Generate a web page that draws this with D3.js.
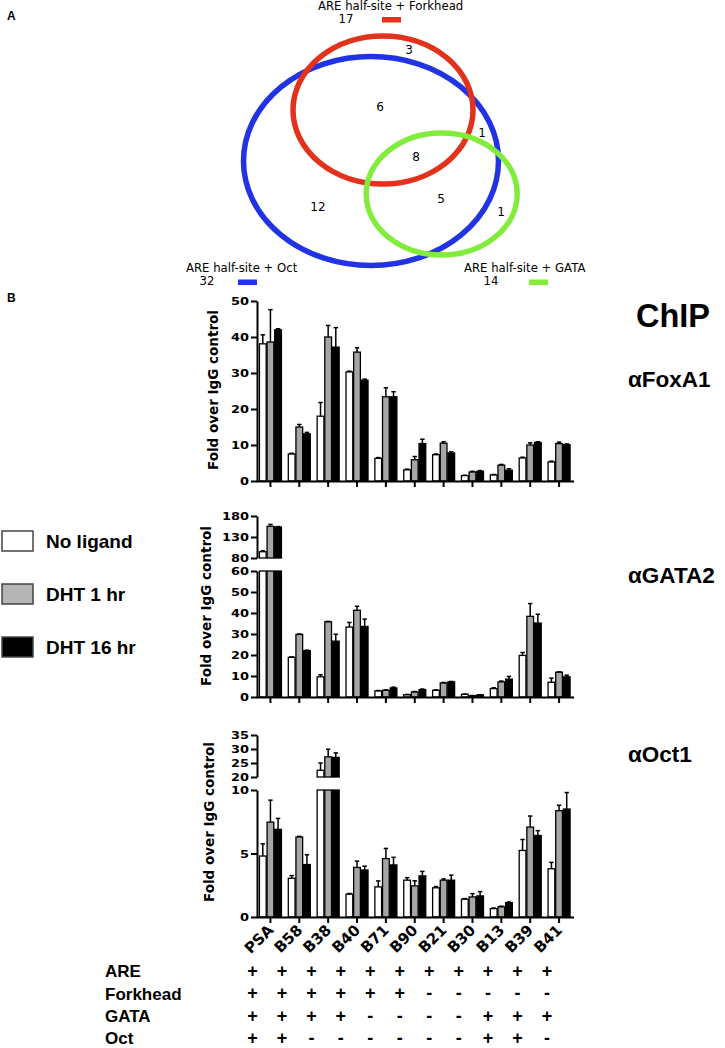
<!DOCTYPE html>
<html>
<head>
<meta charset="utf-8">
<script src="https://cdn.jsdelivr.net/npm/d3@7"></script>
<style>
body { margin: 0; background: #fff; }
</style>
</head>
<body>
<svg width="725" height="1048"></svg>
<script>
// ---- data ----
var categories = ["PSA", "B58", "B38", "B40", "B71", "B90", "B21", "B30", "B13", "B39", "B41"];
var treatments = ["No ligand", "DHT 1 hr", "DHT 16 hr"];

// FoxA1 ChIP (fold over IgG), mean and error per treatment
var foxa1NoLigand = [38.1, 7.5, 18, 30.3, 6.3, 3.1, 7.3, 1.5, 1.7, 6.4, 5.3];
var foxa1Dht1     = [38.6, 15, 40, 35.8, 23.4, 5.9, 10.5, 2.5, 4.4, 10, 10.4];
var foxa1Dht16    = [42, 13.1, 37.2, 28, 23.4, 10.4, 7.8, 2.7, 3, 10.7, 10.1];
var foxa1ErrNoLigand = [2.5, 0.2, 3.8, 0.2, 0.2, 0.2, 0.2, 0.1, 0.1, 0.2, 0.2];
var foxa1ErrDht1     = [9, 0.7, 3.2, 1.2, 2.5, 0.9, 0.4, 0.2, 0.2, 0.6, 0.4];
var foxa1ErrDht16    = [0.3, 0.4, 5.4, 0.3, 1.4, 1.2, 0.3, 0.2, 0.4, 0.2, 0.2];

// GATA2 ChIP
var gata2NoLigand = [95, 18.9, 9.6, 33.3, 2.9, 1.1, 3.2, 1.3, 4, 19.8, 7];
var gata2Dht1     = [155.5, 29.8, 35.8, 41.3, 3.2, 2.4, 6.7, 0.6, 7.2, 38.4, 11.8];
var gata2Dht16    = [153.8, 22.1, 26.6, 33.6, 4.3, 3.5, 7.2, 1, 8.5, 35.2, 9.6];
var gata2ErrNoLigand = [2, 0.2, 1, 2.2, 0.2, 0.1, 0.2, 0.1, 0.4, 1.4, 2];
var gata2ErrDht1     = [4.5, 0.2, 0.2, 1.9, 0.2, 0.2, 0.2, 0.1, 0.4, 6.1, 0.2];
var gata2ErrDht16    = [1, 0.2, 3.3, 3.5, 0.4, 0.3, 0.2, 0.1, 1.3, 4.2, 0.8];

// Oct1 ChIP
var oct1NoLigand = [4.8, 3.05, 22.4, 1.8, 2.37, 2.9, 2.3, 1.4, 0.66, 5.24, 3.8];
var oct1Dht1     = [7.47, 6.3, 27.2, 3.9, 4.6, 2.45, 2.9, 1.58, 0.8, 7.08, 8.37];
var oct1Dht16    = [6.9, 4.13, 27, 3.7, 4.1, 3.24, 2.9, 1.66, 1.13, 6.42, 8.5];
var oct1ErrNoLigand = [0.96, 0.21, 2.6, 0.05, 0.47, 0.2, 0.1, 0.05, 0.05, 0.86, 0.5];
var oct1ErrDht1     = [1.73, 0.05, 2.7, 0.5, 0.8, 0.4, 0.1, 0.26, 0.05, 0.87, 0.43];
var oct1ErrDht16    = [0.86, 0.77, 1.6, 0.3, 0.6, 0.35, 0.4, 0.34, 0.05, 0.38, 1.3];

// motif table under the bars
var motifRows = ["ARE", "Forkhead", "GATA", "Oct"];
var motifARE      = ["+", "+", "+", "+", "+", "+", "+", "+", "+", "+", "+"];
var motifForkhead = ["+", "+", "+", "+", "+", "+", "-", "-", "-", "-", "-"];
var motifGATA     = ["+", "+", "+", "+", "-", "-", "-", "-", "+", "+", "+"];
var motifOct      = ["+", "+", "-", "-", "-", "-", "-", "-", "+", "+", "-"];

// venn diagram counts
var vennSets = ["ARE half-site + Forkhead", "ARE half-site + Oct", "ARE half-site + GATA"];
var vennTotals = [17, 32, 14];
var vennRegions = ["3", "6", "1", "8", "5", "12", "1"];

// ---- drawing ----
var svg = d3.select("svg");
var fills = ["#ffffff", "#a6a6a6", "#000000"];
var numFont = "'DejaVu Sans', sans-serif";
var sansFont = "'Liberation Sans', Arial, sans-serif";

// panel letters
svg.append("text").attr("x", 7).attr("y", 20).text("A")
  .style("font", "bold 12px " + sansFont);
svg.append("text").attr("x", 7).attr("y", 302).text("B")
  .style("font", "bold 12px " + sansFont);

// venn
var vennColors = ["#e3321c", "#2233e6", "#82ec3c"];
var ellipses = [
  {set: 1, cx: 371, cy: 161, rx: 127.5, ry: 104.5},
  {set: 0, cx: 383, cy: 110, rx: 90, ry: 74},
  {set: 2, cx: 441.7, cy: 194, rx: 75.5, ry: 61}
];
svg.selectAll(".venn").data(ellipses).enter().append("ellipse")
  .attr("class", "venn")
  .attr("cx", function(d) { return d.cx; })
  .attr("cy", function(d) { return d.cy; })
  .attr("rx", function(d) { return d.rx; })
  .attr("ry", function(d) { return d.ry; })
  .attr("fill", "none")
  .attr("stroke", function(d) { return vennColors[d.set]; })
  .attr("stroke-width", 5.5);

var regionPos = [[409, 50], [380, 107], [482, 133], [416, 157], [441, 199], [318, 207], [501, 212]];
svg.selectAll(".vnum").data(vennRegions).enter().append("text")
  .attr("x", function(d, i) { return regionPos[i][0]; })
  .attr("y", function(d, i) { return regionPos[i][1]; })
  .attr("dy", "0.36em")
  .attr("text-anchor", "middle")
  .style("font", "12px " + numFont)
  .text(function(d) { return d; });

var setLabelPos = [
  {x: 318, y: 10, nx: 346, ny: 23, bx: 382, by: 17},
  {x: 186, y: 272, nx: 207, ny: 285, bx: 238, by: 279.5},
  {x: 464, y: 272, nx: 491, ny: 285, bx: 529, by: 279.5}
];
vennSets.forEach(function(name, i) {
  var p = setLabelPos[i];
  svg.append("text").attr("x", p.x).attr("y", p.y).text(name)
    .style("font", "11.7px " + numFont);
  svg.append("text").attr("x", p.nx).attr("y", p.ny).attr("text-anchor", "middle")
    .text(vennTotals[i]).style("font", "11.7px " + numFont);
  svg.append("rect").attr("x", p.bx).attr("y", p.by).attr("width", 19).attr("height", 5.5)
    .attr("fill", vennColors[i]);
});

// bar panels
var x = d3.scaleBand().domain(categories).range([256, 573.5]);
var xInner = d3.scaleBand().domain(treatments).range([-11, 11]).paddingInner(0.12);

function drawPanel(p) {
  var g = svg.append("g");
  var segs = p.segs.map(function(s) {
    return {dom: s.dom, ticks: s.ticks, y: d3.scaleLinear().domain(s.dom).range(s.rng)};
  });
  var rows = [];
  categories.forEach(function(c, ci) {
    treatments.forEach(function(t, ti) {
      rows.push({cat: c, t: t, ti: ti, v: p.values[ti][ci], e: p.errors[ti][ci]});
    });
  });

  // bar pieces, one per axis segment
  segs.forEach(function(s) {
    g.selectAll(null)
      .data(rows.filter(function(d) { return d.v > s.dom[0]; }))
      .enter().append("rect")
      .attr("x", function(d) { return x(d.cat) + x.bandwidth() / 2 + xInner(d.t); })
      .attr("width", xInner.bandwidth())
      .attr("y", function(d) { return s.y(Math.min(d.v, s.dom[1])); })
      .attr("height", function(d) { return s.y(s.dom[0]) - s.y(Math.min(d.v, s.dom[1])); })
      .attr("fill", function(d) { return fills[d.ti]; })
      .attr("stroke", "#000")
      .attr("stroke-width", 1.3);
  });

  // error bars (upper only)
  rows.forEach(function(d) {
    var s = segs.filter(function(s) { return d.v >= s.dom[0] && d.v <= s.dom[1]; })[0];
    if (!s) return;
    var cx = x(d.cat) + x.bandwidth() / 2 + xInner(d.t) + xInner.bandwidth() / 2;
    var y0 = s.y(d.v), y1 = s.y(Math.min(d.v + d.e, s.dom[1]));
    g.append("line").attr("x1", cx).attr("x2", cx).attr("y1", y0).attr("y2", y1)
      .attr("stroke", "#000").attr("stroke-width", 1.5);
    g.append("line").attr("x1", cx - 2.2).attr("x2", cx + 2.2).attr("y1", y1).attr("y2", y1)
      .attr("stroke", "#000").attr("stroke-width", 1.5);
  });

  // axes
  segs.forEach(function(s) {
    g.append("g").attr("transform", "translate(257,0)")
      .call(d3.axisLeft(s.y).tickValues(s.ticks).tickSize(6).tickSizeOuter(0).tickPadding(2));
  });
  g.append("g").attr("transform", "translate(0," + segs[0].y(0) + ")")
    .call(d3.axisBottom(x).tickSize(6).tickSizeOuter(0).tickFormat(""));
  g.selectAll(".domain, .tick line").attr("stroke", "#000").attr("stroke-width", 2);
  // wide, short digits like the original
  g.selectAll(".tick text")
    .style("font", "bold 11px " + numFont).attr("fill", "#000")
    .attr("textLength", function() { return this.textContent.length * 9; })
    .attr("lengthAdjust", "spacingAndGlyphs");

  g.append("text")
    .attr("transform", "translate(" + p.titleX + "," + p.titleY + ") rotate(-90)")
    .attr("text-anchor", "middle").attr("dy", "0.35em")
    .style("font", "bold 13.5px " + numFont)
    .text("Fold over IgG control");

  svg.append("text").attr("x", 628).attr("y", p.labelY)
    .style("font", "bold 22.5px " + sansFont)
    .text("\u03b1" + p.name);
}

drawPanel({
  name: "FoxA1", labelY: 387, titleX: 213, titleY: 390,
  values: [foxa1NoLigand, foxa1Dht1, foxa1Dht16],
  errors: [foxa1ErrNoLigand, foxa1ErrDht1, foxa1ErrDht16],
  segs: [{dom: [0, 50], rng: [481, 301], ticks: [0, 10, 20, 30, 40, 50]}]
});

drawPanel({
  name: "GATA2", labelY: 583, titleX: 206, titleY: 606,
  values: [gata2NoLigand, gata2Dht1, gata2Dht16],
  errors: [gata2ErrNoLigand, gata2ErrDht1, gata2ErrDht16],
  segs: [
    {dom: [0, 60], rng: [697, 571], ticks: [0, 10, 20, 30, 40, 50, 60]},
    {dom: [80, 180], rng: [558, 516], ticks: [80, 130, 180]}
  ]
});

drawPanel({
  name: "Oct1", labelY: 762, titleX: 209, titleY: 822,
  values: [oct1NoLigand, oct1Dht1, oct1Dht16],
  errors: [oct1ErrNoLigand, oct1ErrDht1, oct1ErrDht16],
  segs: [
    {dom: [0, 10], rng: [917, 790], ticks: [0, 5, 10]},
    {dom: [20, 35], rng: [777, 735], ticks: [20, 25, 30, 35]}
  ]
});

// ChIP heading
svg.append("text").attr("x", 636).attr("y", 327).text("ChIP")
  .style("font", "bold 32.5px " + sansFont);

// category labels
svg.selectAll(".cat").data(categories).enter().append("text")
  .attr("class", "cat")
  .attr("transform", function(d) {
    return "translate(" + (x(d) + x.bandwidth() / 2 + 4) + ",931) rotate(-45)";
  })
  .attr("text-anchor", "end")
  .style("font", "bold 15px " + numFont)
  .text(function(d) { return d; });

// legend
var legendY = [531, 584, 637];
treatments.forEach(function(t, i) {
  svg.append("rect").attr("x", 2).attr("y", legendY[i]).attr("width", 31).attr("height", 20)
    .attr("fill", fills[i] === "#a6a6a6" ? "#b5b5b5" : fills[i])
    .attr("stroke", "#444").attr("stroke-width", 1.5);
  svg.append("text").attr("x", 46).attr("y", legendY[i] + 17).text(t)
    .style("font", "bold 19px " + sansFont);
});

// motif table
var motifs = [motifARE, motifForkhead, motifGATA, motifOct];
var rowY = [977, 999.5, 1022, 1044];
var xSign = d3.scalePoint().domain(categories).range([252.5, 547]);
motifRows.forEach(function(r, ri) {
  svg.append("text").attr("x", 105).attr("y", rowY[ri]).text(r)
    .style("font", "bold 17px " + sansFont);
  svg.selectAll(null).data(motifs[ri]).enter().append("text")
    .attr("x", function(d, i) { return xSign(categories[i]); })
    .attr("y", rowY[ri] - 0.5)
    .attr("text-anchor", "middle")
    .style("font", "bold 18px " + sansFont)
    .text(function(d) { return d; });
});
</script>
</body>
</html>
